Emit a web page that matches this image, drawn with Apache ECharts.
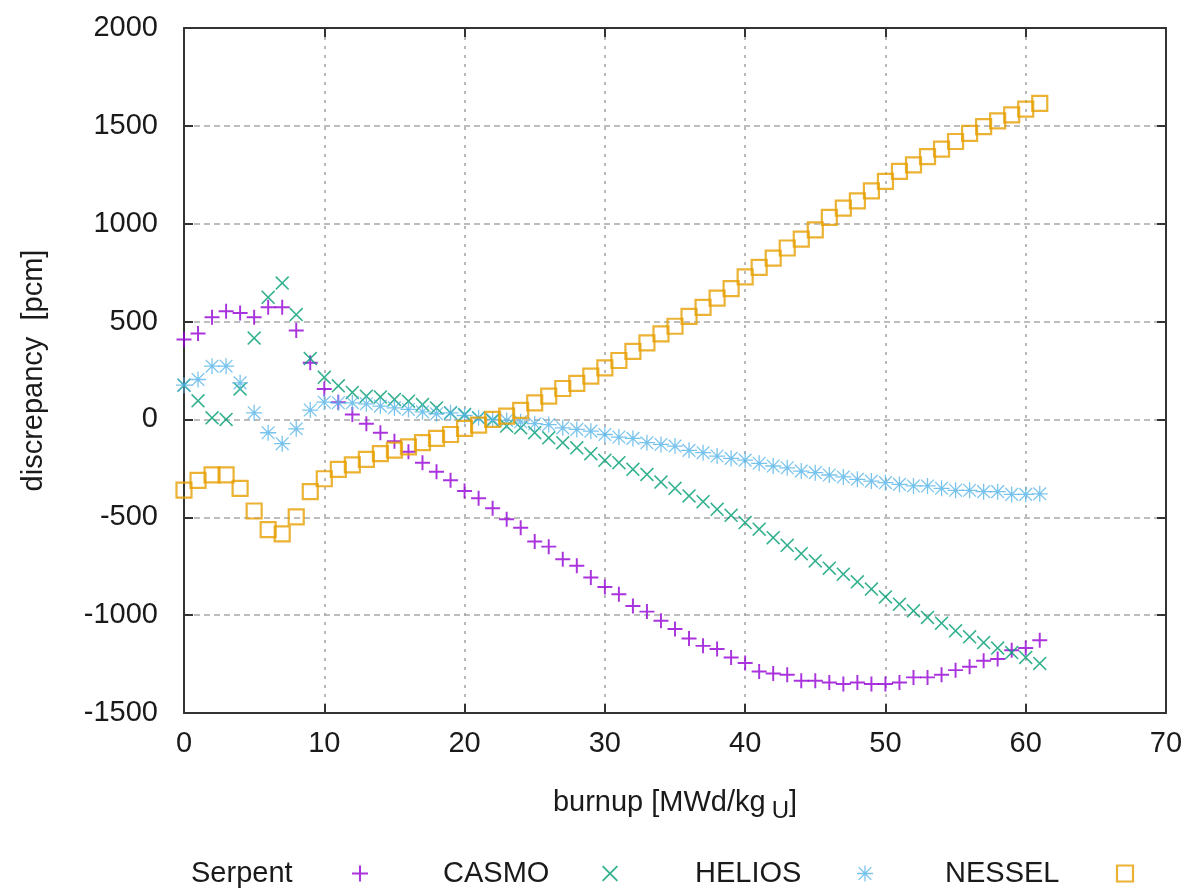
<!DOCTYPE html>
<html>
<head>
<meta charset="utf-8">
<script src="https://cdn.jsdelivr.net/npm/echarts@6/dist/echarts.min.js"></script>
<style>html,body{margin:0;padding:0;background:#fff;}#c{width:1186px;height:892px;}</style>
</head>
<body>
<div id="c"></div>
<script>
// burnup steps [MWd/kgU]
var burnup = [];
for (var i = 0; i <= 61; i++) burnup.push(i);

var serpent = [408,439,522,553,544,522,573,573,454,290,
  155,88,25,-22,-68,-111,-165,-221,-267,-311,
  -366,-403,-454,-510,-553,-624,-650,-714,-748,-808,
  -856,-893,-953,-982,-1029,-1071,-1119,-1157,-1173,-1216,
  -1245,-1288,-1298,-1305,-1335,-1335,-1344,-1352,-1344,-1352,
  -1352,-1344,-1318,-1318,-1305,-1281,-1264,-1233,-1224,-1179,
  -1168,-1128];

var casmo = [175,95,8,0,156,416,624,697,536,311,
  215,172,138,119,115,102,93,76,59,34,
  25,8,-5,-34,-43,-68,-94,-119,-145,-175,
  -209,-221,-255,-281,-320,-352,-391,-420,-459,-490,
  -527,-561,-604,-643,-686,-723,-760,-791,-830,-867,
  -907,-944,-978,-1012,-1041,-1080,-1111,-1140,-1168,-1191,
  -1216,-1247];

var helios = [175,204,272,272,187,34,-68,-124,-48,48,
  88,85,85,80,68,59,51,39,29,34,
  20,8,0,-5,-12,-22,-26,-43,-51,-60,
  -77,-90,-97,-119,-128,-136,-158,-170,-187,-199,
  -208,-224,-238,-247,-264,-272,-284,-294,-306,-315,
  -323,-332,-340,-340,-352,-362,-362,-369,-369,-383,
  -383,-380];

var nessel = [-361,-311,-283,-283,-352,-468,-563,-585,-498,-369,
  -303,-255,-232,-204,-175,-157,-140,-119,-97,-77,
  -46,-29,0,17,46,85,119,158,184,221,
  263,301,348,391,437,476,527,573,620,668,
  728,777,824,876,921,969,1032,1080,1117,1168,
  1216,1267,1301,1343,1381,1420,1462,1496,1525,1556,
  1585,1615];

var seriesNames = ['Serpent','CASMO','HELIOS','NESSEL'];
var colors = ['#9400d3','#009e73','#56b4e9','#e69f00'];

var xTicks = {min:0, max:70, interval:10};
var yTicks = {min:-1500, max:2000, interval:500};

function pairs(ys){ return ys.map(function(v,i){ return [burnup[i], v]; }); }

var PLUS = 'path://M8.7,0H11.3V8.7H20V11.3H11.3V20H8.7V11.3H0V8.7H8.7Z';
var CROSS = 'path://M0,1.6L1.6,0L10,8.4L18.4,0L20,1.6L11.6,10L20,18.4L18.4,20L10,11.6L1.6,20L0,18.4L8.4,10Z';
var STAR = 'path://M9.2,0H10.8V9.2H20V10.8H10.8V20H9.2V10.8H0V9.2H9.2Z M1.5,2.6L2.6,1.5L10,8.9L17.4,1.5L18.5,2.6L11.1,10L18.5,17.4L17.4,18.5L10,11.1L2.6,18.5L1.5,17.4L8.9,10Z M8,8H12V12H8Z';
var icons = [PLUS, CROSS, STAR, 'rect'];

var FONT = 'Liberation Sans';
var TXT = '#1a1a1a';

// legend layout: text start and text box width (icon follows text)
var legendLeft = [186, 438, 690, 940];
var legendTextW = [156, 154, 157, 167];

var chart = echarts.init(document.getElementById('c'));
var axisLine = {show:true, onZero:false, lineStyle:{color:'#333', width:2}};
var tick = {show:true, inside:true, length:9, lineStyle:{color:'#333', width:2}};
var gridLineH = {show:true, lineStyle:{color:'#a8a8a8', width:1.6, type:[6,4]}};
var gridLineV = {show:true, lineStyle:{color:'#a8a8a8', width:1.6, type:[3,6]}};

var legends = seriesNames.map(function(n, k){
  var d = {name:n, icon:icons[k]};
  if (k === 3) d.itemStyle = {color:'rgba(0,0,0,0)', borderColor:colors[3], borderWidth:2.2};
  return {
    top:854, left:legendLeft[k], orient:'horizontal', align:'right',
    itemWidth:16, itemHeight:16, selectedMode:false,
    formatter:function(name){ return '{t|' + name + '}'; },
    textStyle:{fontFamily:FONT, fontSize:29, color:TXT,
      rich:{t:{fontFamily:FONT, fontSize:29, color:TXT, width:legendTextW[k], lineHeight:34, align:'left'}}},
    data:[d]
  };
});

function plain(v){ return String(v); }

chart.setOption({
  animation:false,
  backgroundColor:'#fff',
  grid:{left:184, right:20, top:28, bottom:179, containLabel:false},
  legend:legends,
  xAxis:[{
    type:'value', min:xTicks.min, max:xTicks.max, interval:xTicks.interval,
    name:'burnup [MWd/kg{sub|U}]', nameLocation:'middle', nameGap:70,
    nameTextStyle:{fontFamily:FONT, fontSize:29, color:TXT,
      rich:{sub:{fontFamily:FONT, fontSize:24, color:TXT, padding:[16,0,0,6]}}},
    axisLine:axisLine, axisTick:tick,
    axisLabel:{fontFamily:FONT, fontSize:29, color:TXT, margin:16, formatter:plain},
    splitLine:gridLineV
  },{
    type:'value', position:'top', min:xTicks.min, max:xTicks.max, interval:xTicks.interval,
    axisLine:axisLine, axisTick:tick,
    axisLabel:{show:false}, splitLine:{show:false}
  }],
  yAxis:[{
    type:'value', min:yTicks.min, max:yTicks.max, interval:yTicks.interval,
    name:'discrepancy  [pcm]', nameLocation:'middle', nameGap:136,
    nameTextStyle:{fontFamily:FONT, fontSize:29, color:TXT},
    axisLine:axisLine, axisTick:tick,
    axisLabel:{fontFamily:FONT, fontSize:29, color:TXT, margin:26, formatter:plain},
    splitLine:gridLineH
  },{
    type:'value', position:'right', min:yTicks.min, max:yTicks.max, interval:yTicks.interval,
    axisLine:axisLine, axisTick:tick,
    axisLabel:{show:false}, splitLine:{show:false}
  }],
  series:[
    {name:seriesNames[0], type:'scatter', data:pairs(serpent), symbol:PLUS, symbolSize:15,
     itemStyle:{color:colors[0]}, emphasis:{disabled:true}},
    {name:seriesNames[1], type:'scatter', data:pairs(casmo), symbol:CROSS, symbolSize:14,
     itemStyle:{color:colors[1]}, emphasis:{disabled:true}},
    {name:seriesNames[2], type:'scatter', data:pairs(helios), symbol:STAR, symbolSize:16,
     itemStyle:{color:colors[2]}, emphasis:{disabled:true}},
    {name:seriesNames[3], type:'scatter', data:pairs(nessel), symbol:'rect', symbolSize:15,
     itemStyle:{color:'rgba(0,0,0,0)', borderColor:colors[3], borderWidth:2.2}, emphasis:{disabled:true}}
  ]
});
</script>
</body>
</html>
